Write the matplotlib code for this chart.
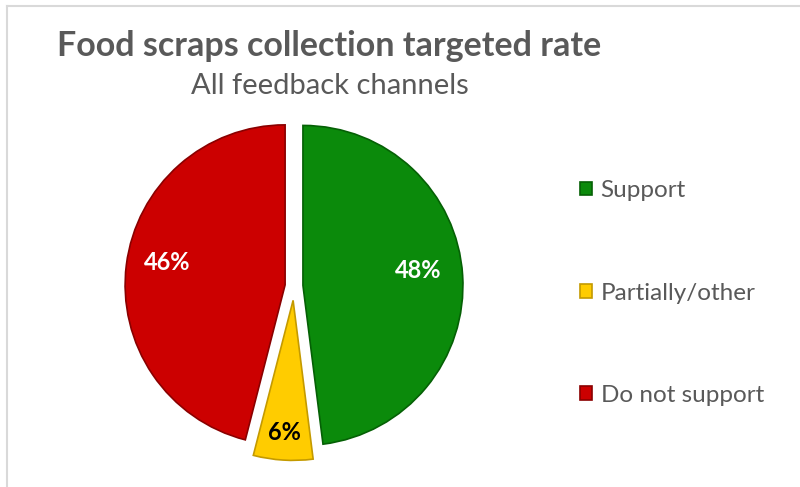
import numpy as np
import matplotlib.pyplot as plt
from matplotlib.lines import Line2D

# Data
labels = ['Support', 'Partially/other', 'Do not support']
shares = [48, 6, 46]
colors = ['#0b8a0b', '#ffcc00', '#cc0000']
edge_colors = ['#056005', '#c49a00', '#8a0000']
pct_colors = ['white', 'black', 'white']
explode = [0.056, 0.09, 0.056]
pct_dist = [0.72, 0.88, 0.74]

plt.rcParams['font.family'] = ['Lato', 'DejaVu Sans']

fig = plt.figure(figsize=(8, 4.87), dpi=100)

# chart border (only top and left visible)
fig.add_artist(Line2D([7 / 800, 1], [1 - 6 / 487, 1 - 6 / 487], color='#d9d9d9', lw=1.5))
fig.add_artist(Line2D([7 / 800, 7 / 800], [0, 1 - 6 / 487], color='#d9d9d9', lw=1.5))

# pie axes: centre at (294, 286) px, radius 160 px
ax = fig.add_axes([(294 - 200) / 800, (201 - 200) / 487, 400 / 800, 400 / 487])
wedges, texts, autotexts = ax.pie(
    shares, colors=colors, explode=explode, startangle=90, counterclock=False,
    autopct='%1.0f%%', wedgeprops=dict(linewidth=1.2),
    textprops=dict(fontsize=17, fontweight='bold'))
for w, ec in zip(wedges, edge_colors):
    w.set_edgecolor(ec)
for w, t, c, d, ex in zip(wedges, autotexts, pct_colors, pct_dist, explode):
    ang = np.deg2rad((w.theta1 + w.theta2) / 2)
    t.set_position(((d + ex) * np.cos(ang), (d + ex) * np.sin(ang) + 0.05))
    t.set_color(c)
ax.set_xlim(-1.25, 1.25)
ax.set_ylim(-1.25, 1.25)
ax.set_aspect('equal')
ax.axis('off')

fig.text(57 / 800, 1 - 46 / 487, 'Food scraps collection targeted rate', fontsize=24.5,
         fontweight='bold', color='#595959', va='center', ha='left')
fig.text(330 / 800, 1 - 86 / 487, 'All feedback channels', fontsize=21,
         color='#595959', va='center', ha='center')

leg = fig.legend(wedges, labels, loc='center left', bbox_to_anchor=(558 / 800, 1 - 293 / 487),
                 frameon=False, fontsize=17.5, labelcolor='#595959', handlelength=0.5,
                 handleheight=0.5, handletextpad=0.35, labelspacing=3.35)

fig.savefig('out.png', dpi=100)
